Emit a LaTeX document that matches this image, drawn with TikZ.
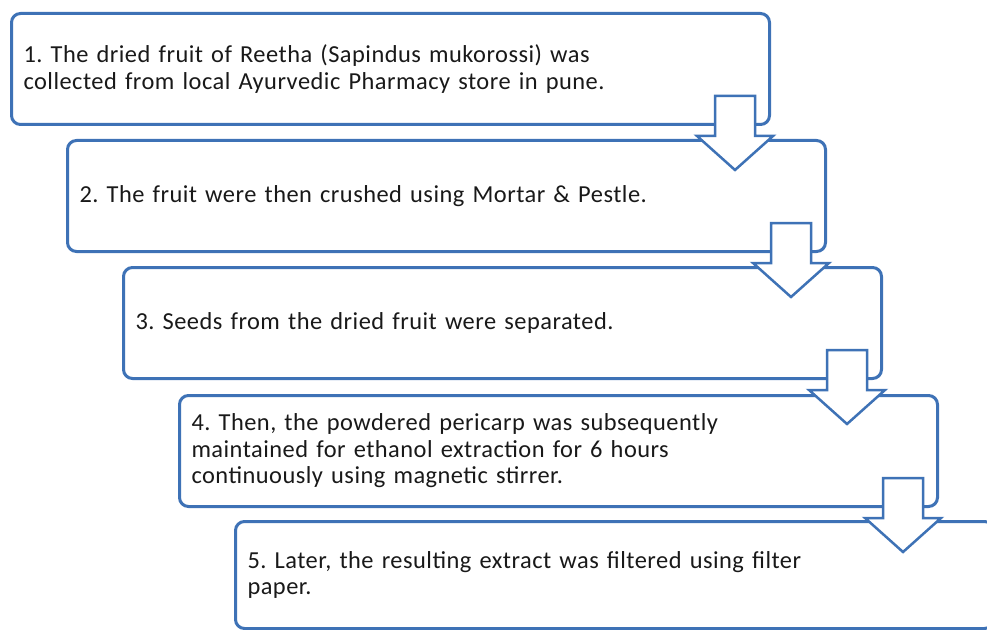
\documentclass[tikz,border=0pt]{standalone}
\usepackage{fontspec}
\setmainfont{Carlito}[LetterSpace=2]
\usetikzlibrary{calc}
\definecolor{boxblue}{RGB}{62,114,182}
\definecolor{textgray}{RGB}{25,25,25}
\tikzset{
  stepbox/.style={draw=boxblue, line width=3bp, fill=white, rounded corners=9bp,
    anchor=north west, minimum width=758bp, minimum height=111bp,
    text width=734bp, inner xsep=12bp, align=left, text=textgray,
    font=\fontsize{24.5}{26.5}\selectfont},
  blockarrow/.style={draw=boxblue, line width=2.5bp, fill=white, line join=miter}
}
\frenchspacing
\begin{document}
\begin{tikzpicture}[x=1bp, y=-1bp]
    \useasboundingbox (0,0) rectangle (987,630);
    \node[stepbox] (s1) at (10,12) {1. The dried fruit of Reetha (Sapindus mukorossi) was\\ collected from local Ayurvedic Pharmacy store in pune.};
    \node[stepbox] (s2) at (66,139) {2. The fruit were then crushed using Mortar \& Pestle.};
    \node[stepbox] (s3) at (122,266) {3. Seeds from the dried fruit were separated.};
    \node[stepbox] (s4) at (178,394) {4. Then, the powdered pericarp was subsequently\\ maintained for ethanol extraction for 6 hours\\ continuously using magnetic stirrer.};
    \node[stepbox, minimum height=107bp] (s5) at (234,520) {5. Later, the resulting extract was filtered using filter\\ paper.};

    % block arrows between the steps
    \foreach \a in {s1,s2,s3,s4} {
      \draw[blockarrow] ($(\a.south east)+(-56,-30)$) -- ($(\a.south east)+(-16,-30)$)
        -- ($(\a.south east)+(-16,10)$) -- ($(\a.south east)+(2,10)$)
        -- ($(\a.south east)+(-36,44)$) -- ($(\a.south east)+(-74,10)$)
        -- ($(\a.south east)+(-56,10)$) -- cycle;
    }
\end{tikzpicture}
\end{document}
